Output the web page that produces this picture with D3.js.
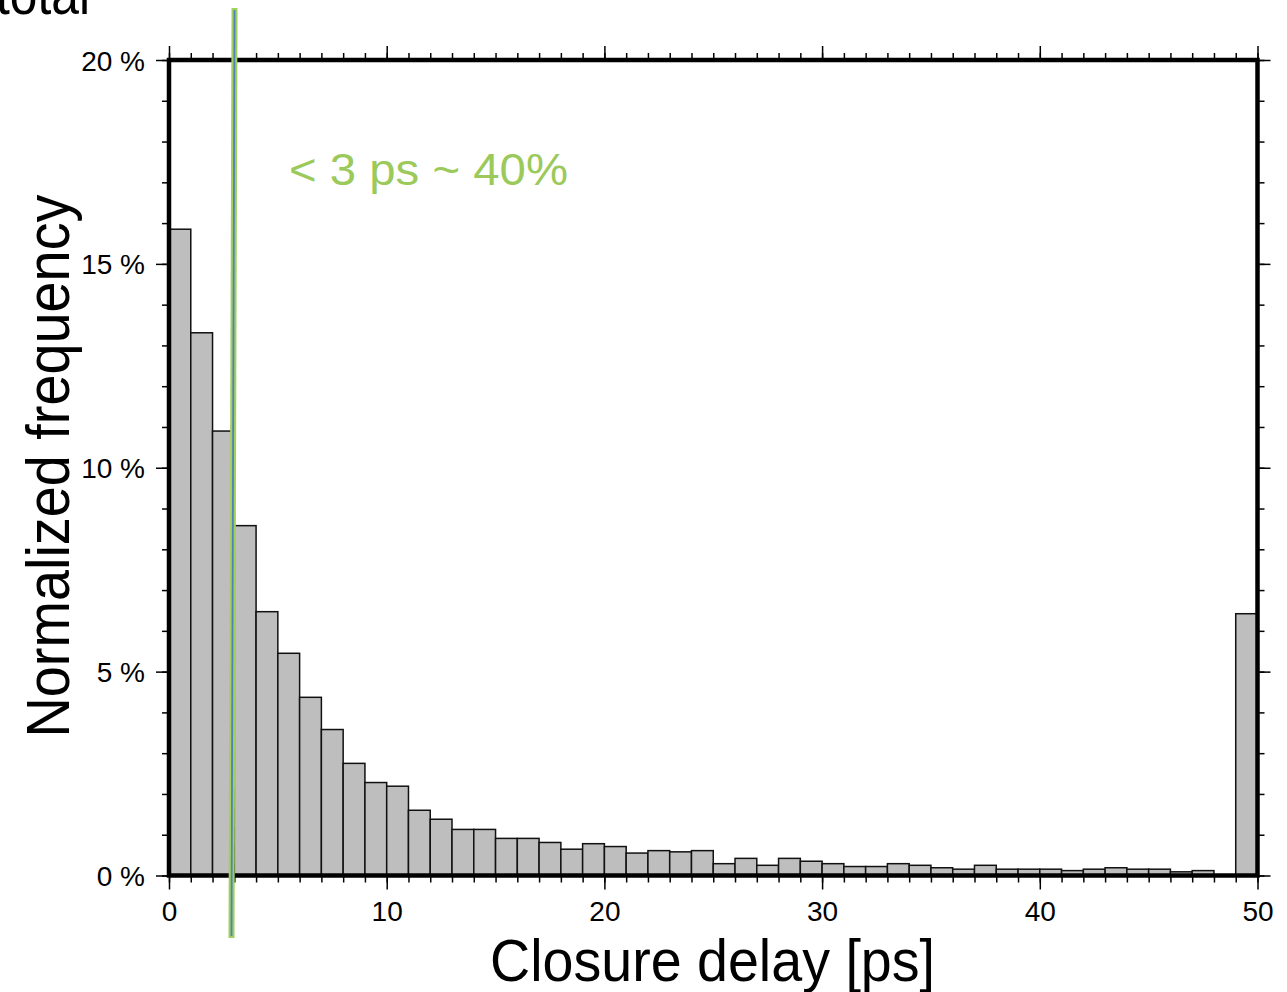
<!DOCTYPE html>
<html><head><meta charset="utf-8">
<script src="https://cdn.jsdelivr.net/npm/d3@7/dist/d3.min.js"></script>
<style>
html,body{margin:0;padding:0;background:#fff;}
svg{display:block;font-family:"Liberation Sans",Arial,Helvetica,sans-serif;}
</style></head>
<body>
<svg id="chart" width="1287" height="992"></svg>
<script>
// ---- data ----
const binStarts = d3.range(0, 50, 1);           // bin left edges [ps], width 1 ps
const frequency = [15.85,13.31,10.90,8.58,6.47,5.45,4.37,3.58,2.75,2.28,
                   2.19,1.60,1.38,1.13,1.13,0.91,0.91,0.81,0.645,0.78,
                   0.71,0.55,0.61,0.58,0.61,0.29,0.42,0.25,0.42,0.35,
                   0.29,0.22,0.22,0.29,0.25,0.19,0.155,0.25,0.155,0.155,
                   0.155,0.12,0.155,0.19,0.155,0.155,0.09,0.12,0,6.42];
const xMajorTicks = [0,10,20,30,40,50];
const xMinorTicks = d3.range(0, 51, 1);
const yMajorTicks = [0,5,10,15,20];
const yMinorTicks = d3.range(0, 21, 1);
const xTitle = "Closure delay [ps]";
const yTitle = "Normalized frequency";
const annotationText = "< 3 ps ~ 40%";
const markerTop = 3.01, markerBottom = 2.87;     // slightly tilted marker line near 3 ps
const cornerText = "total";

// ---- layout ----
const svg = d3.select("#chart");
const pLeft = 169, pRight = 1257.5, pTop = 60, pBottom = 875.5;
const x = d3.scaleLinear().domain([0, 50]).range([pLeft, pRight]);
const y = d3.scaleLinear().domain([0, 20]).range([pBottom, pTop]);

// bars
svg.append("g").selectAll("rect").data(binStarts).join("rect")
  .attr("x", d => x(d))
  .attr("width", d => x(d + 1) - x(d))
  .attr("y", (d, i) => y(frequency[i]))
  .attr("height", (d, i) => y(0) - y(frequency[i]))
  .attr("fill", "#bebebe")
  .attr("stroke", "#111")
  .attr("stroke-width", 1.5);

// axes helper
function styleAxis(g) {
  g.select(".domain").remove();
  g.selectAll(".tick line").attr("stroke", "#000").attr("stroke-width", 1.5);
}
const fmtPct = d => d + " %";

// minor ticks
svg.append("g").attr("transform", `translate(0,${pBottom})`)
  .call(d3.axisBottom(x).tickValues(xMinorTicks).tickSize(7).tickFormat(""))
  .call(styleAxis);
svg.append("g").attr("transform", `translate(0,${pTop})`)
  .call(d3.axisTop(x).tickValues(xMinorTicks).tickSize(7).tickFormat(""))
  .call(styleAxis);
svg.append("g").attr("transform", `translate(${pLeft},0)`)
  .call(d3.axisLeft(y).tickValues(yMinorTicks).tickSize(7).tickFormat(""))
  .call(styleAxis);
svg.append("g").attr("transform", `translate(${pRight},0)`)
  .call(d3.axisRight(y).tickValues(yMinorTicks).tickSize(7).tickFormat(""))
  .call(styleAxis);

// major ticks
const xb = svg.append("g").attr("transform", `translate(0,${pBottom})`)
  .call(d3.axisBottom(x).tickValues(xMajorTicks).tickSize(14).tickFormat(d3.format("d")))
  .call(styleAxis);
xb.selectAll(".tick text").attr("font-size", 28).attr("fill", "#000")
  .attr("dy", null).attr("y", 45.5);
svg.append("g").attr("transform", `translate(0,${pTop})`)
  .call(d3.axisTop(x).tickValues(xMajorTicks).tickSize(14).tickFormat(""))
  .call(styleAxis);
const yl = svg.append("g").attr("transform", `translate(${pLeft},0)`)
  .call(d3.axisLeft(y).tickValues(yMajorTicks).tickSize(13).tickFormat(fmtPct))
  .call(styleAxis);
yl.selectAll(".tick text").attr("font-size", 28).attr("fill", "#000")
  .attr("x", -24).attr("dy", null).attr("y", 10);
svg.append("g").attr("transform", `translate(${pRight},0)`)
  .call(d3.axisRight(y).tickValues(yMajorTicks).tickSize(13).tickFormat(""))
  .call(styleAxis);

// frame
svg.append("rect")
  .attr("x", x(0)).attr("y", y(20))
  .attr("width", x(50) - x(0)).attr("height", y(0) - y(20))
  .attr("fill", "none").attr("stroke", "#000").attr("stroke-width", 4.5);

// titles
svg.append("text").text(xTitle)
  .attr("x", 490).attr("y", 981)
  .attr("font-size", 60).attr("textLength", 445).attr("lengthAdjust", "spacingAndGlyphs")
  .attr("fill", "#000");
svg.append("text").text(yTitle)
  .attr("transform", "translate(69,466) rotate(-90)")
  .attr("text-anchor", "middle")
  .attr("font-size", 61).attr("textLength", 543).attr("lengthAdjust", "spacingAndGlyphs")
  .attr("fill", "#000");

// corner text (cut off at top-left)
svg.append("text").text(cornerText)
  .attr("x", -4).attr("y", 14)
  .attr("font-size", 58).attr("textLength", 94).attr("lengthAdjust", "spacingAndGlyphs")
  .attr("fill", "#000");

// marker line near 3 ps
const markerY1 = 8, markerY2 = 938;
svg.append("line")
  .attr("x1", x(markerTop)).attr("y1", markerY1)
  .attr("x2", x(markerBottom)).attr("y2", markerY2)
  .attr("stroke", "#a3cf62").attr("stroke-width", 6);
svg.append("line")
  .attr("x1", x(markerTop)).attr("y1", markerY1 + 2)
  .attr("x2", x(markerBottom)).attr("y2", markerY2 - 2)
  .attr("stroke", "#4f81bd").attr("stroke-width", 1.8);

// annotation
svg.append("text").text(annotationText)
  .attr("x", 289).attr("y", 185)
  .attr("font-size", 45).attr("textLength", 279).attr("lengthAdjust", "spacingAndGlyphs")
  .attr("fill", "#9bc95a");
</script>
</body></html>
